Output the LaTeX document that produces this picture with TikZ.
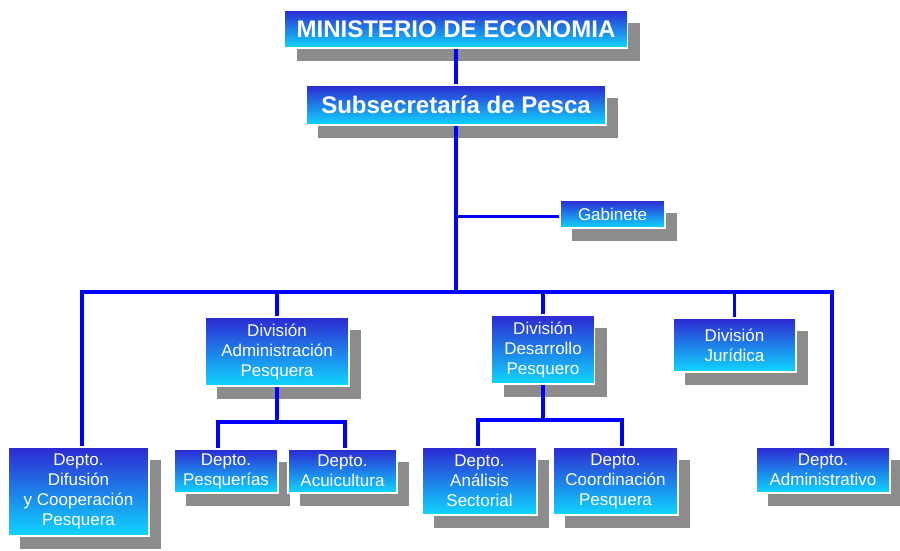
\documentclass[tikz,border=0pt]{standalone}
\usepackage{fontspec}
\setmainfont{Liberation Sans}
\usetikzlibrary{shadows}
\definecolor{boxtop}{RGB}{45,40,210}
\definecolor{boxbot}{RGB}{15,215,255}
\definecolor{shad}{RGB}{140,140,140}
\definecolor{linkblue}{RGB}{0,0,250}
\tikzset{
 orgbox/.style={draw=white, line width=1.2pt, top color=boxtop, bottom color=boxbot, text=white, align=center, inner sep=0pt,
   general shadow={fill=shad, shadow xshift=12pt, shadow yshift=-13pt}},
 smallbox/.style={orgbox, font=\fontsize{17}{20}\selectfont},
 bigbox/.style={orgbox, font=\fontsize{24}{28}\selectfont\bfseries},
 link/.style={draw=linkblue, line width=3.5pt},
}
\begin{document}
\begin{tikzpicture}[x=1pt,y=-1pt]
\fill[white] (0,0) rectangle (900,550);
\useasboundingbox (0,0) rectangle (900,550);

\node[bigbox, minimum width=343pt, minimum height=38pt] (min) at (456,29) {MINISTERIO DE ECONOMIA};
\node[bigbox, minimum width=300pt, minimum height=40pt] (sub) at (456,105) {Subsecretaría de Pesca};
\node[smallbox, minimum width=105pt, minimum height=28pt] (gab) at (612.5,214) {Gabinete};

\node[smallbox, minimum width=144pt, minimum height=69pt] (dap) at (277,351.5) {División\\Administración\\Pesquera};
\node[smallbox, minimum width=103pt, minimum height=69pt] (ddp) at (543,349.5) {División\\Desarrollo\\Pesquero};
\node[smallbox, minimum width=123pt, minimum height=54pt] (djur) at (734.5,345) {División\\Jurídica};

\node[smallbox, minimum width=141pt, minimum height=89pt] (dif) at (78.5,491.5) {Depto.\\Difusión\\y Cooperación\\Pesquera};
\node[smallbox, minimum width=104pt, minimum height=44pt] (pesq) at (226,471) {Depto.\\Pesquerías};
\node[smallbox, minimum width=109pt, minimum height=44pt] (acui) at (342.5,471) {Depto.\\Acuicultura};
\node[smallbox, minimum width=115pt, minimum height=68pt] (anal) at (479.5,481) {Depto.\\Análisis\\Sectorial};
\node[smallbox, minimum width=125pt, minimum height=68pt] (coord) at (615.5,481) {Depto.\\Coordinación\\Pesquera};
\node[smallbox, minimum width=134pt, minimum height=46pt] (adm) at (823,470) {Depto.\\Administrativo};

% connectors
\draw[link] (min.south) -- (sub.north);
\coordinate (j) at (456,292);
\coordinate (g) at (456,216);
\draw[link] (sub.south) -- (j);
\draw[link, line width=3pt] (g) -- (gab.west |- g);
\coordinate (bl) at (82,292);
\coordinate (br) at (832,292);
\draw[link] (bl |- dif.north) -- (bl) -- (br) -- (br |- adm.north);
\draw[link] (dap.north |- bl) -- (dap.north);
\draw[link] (ddp.north |- bl) -- (ddp.north);
\draw[link] (djur.north |- bl) -- (djur.north);

\coordinate (pl) at (218,422);
\coordinate (pr) at (345,422);
\draw[link] (dap.south) -- (dap.south |- pl);
\draw[link] (pl |- pesq.north) -- (pl) -- (pr) -- (pr |- acui.north);

\coordinate (ql) at (478,420);
\coordinate (qr) at (622,420);
\draw[link] (ddp.south) -- (ddp.south |- ql);
\draw[link] (ql |- anal.north) -- (ql) -- (qr) -- (qr |- coord.north);
\end{tikzpicture}
\end{document}
